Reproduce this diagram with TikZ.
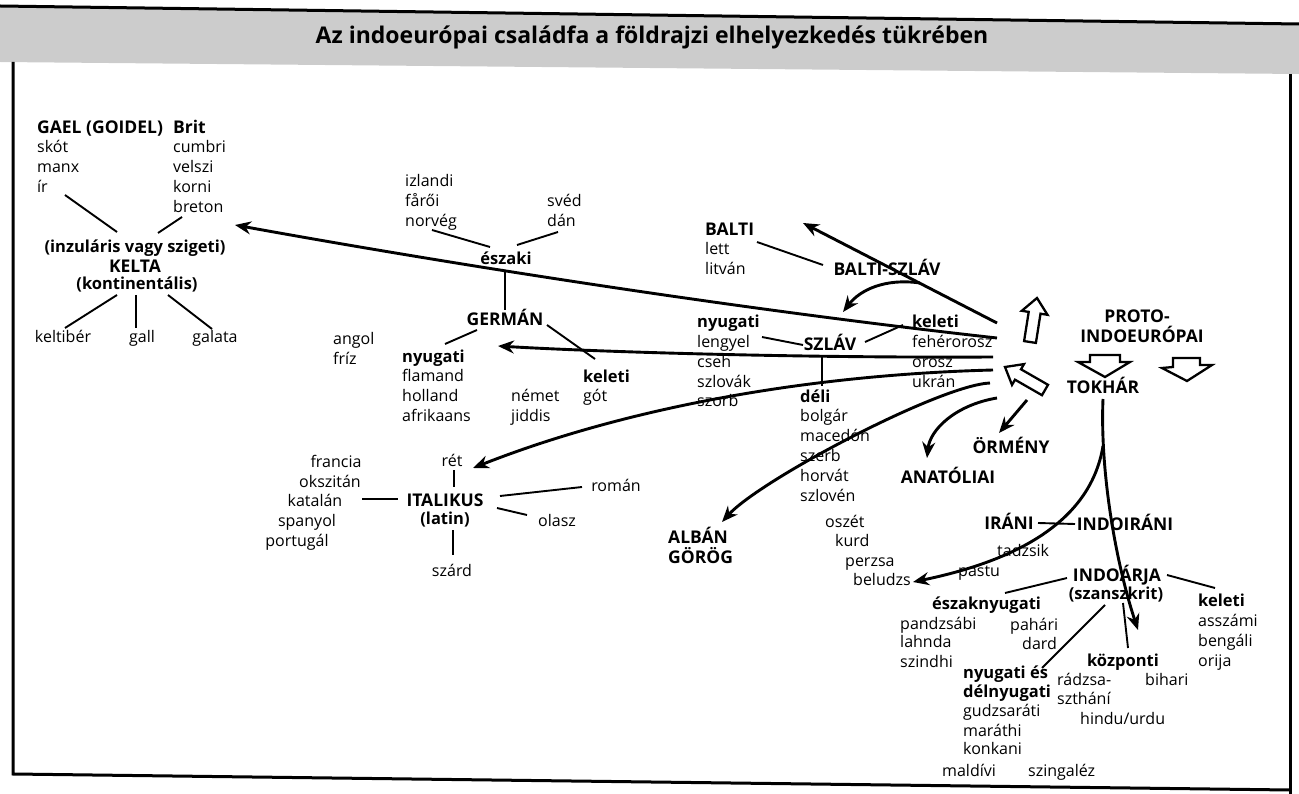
\documentclass[tikz,border=0pt]{standalone}
\usepackage{fontspec}
\setmainfont{Open Sans}
\usepackage{graphicx}
\usetikzlibrary{calc,arrows.meta}
\begin{document}
\begin{tikzpicture}[x=1pt,y=-1pt,
  txt/.style={font=\fontsize{16}{19}\selectfont, inner sep=0pt, text height=11pt, text depth=2pt},
  subh/.style={font=\fontsize{16.5}{19}\selectfont\bfseries, inner sep=0pt, text height=11pt, text depth=2pt},
  hd/.style={font=\fontsize{17.5}{20}\selectfont\bfseries, inner sep=0pt, text height=13pt, text depth=1pt},
  ww/.style={anchor=west},
  conn/.style={line width=1.9pt},
  arr/.style={line width=2.9pt, -{Stealth[length=16pt,width=13pt]}},
  hollowarrow/.style={line width=2.3pt, fill=white, line join=miter},
  framel/.style={line width=3pt}]
\useasboundingbox (0,0) rectangle (1299,794);
% title band and frame
\fill[gray!40] (0,6) -- (1299,24) -- (1299,74) -- (0,62) -- cycle;
\draw[framel] (0,6) -- (1299,24);
\node[font=\fontsize{23}{26}\selectfont\bfseries, inner sep=0pt] (title) at (652,37) {Az indoeurópai családfa a földrajzi elhelyezkedés tükrében};
\draw[framel] (13,62) -- (13,774) -- (1290,790);
\draw[framel] (1290,74) -- (1290,794);

% ---------------- Celtic
\node[hd,ww] (gael) at (37,128) {GAEL (GOIDEL)};
\node[txt,ww] (skot) at (37,148) {skót};
\node[txt,ww] (manx) at (37,168) {manx};
\node[txt,ww] (ir) at (37,188) {ír};
\node[hd,ww] (brit) at (173,128) {Brit};
\node[txt,ww] (cumbri) at (173,148) {cumbri};
\node[txt,ww] (velszi) at (173,168) {velszi};
\node[txt,ww] (korni) at (173,188) {korni};
\node[txt,ww] (breton) at (173,208) {breton};
\node[subh] (inz) at (135,248) {(inzuláris vagy szigeti)};
\node[hd] (kelta) at (135,267) {KELTA};
\node[subh] (kont) at (137,285) {(kontinentális)};
\node[txt] (keltiber) at (63,338) {keltibér};
\node[txt] (gall) at (142,338) {gall};
\node[txt] (galata) at (215,338) {galata};
\draw[conn] ($(ir.west)+(28,7)$) -- ($(inz)+(-18,-16)$);
\draw[conn] ($(breton.west)+(9,9)$) -- ($(inz)+(23,-15)$);
\draw[conn] ($(kont)+(-20,10)$) -- ($(keltiber)+(2,-10)$);
\draw[conn] ($(kont)+(-1,10)$) -- ($(gall)+(-6,-10)$);
\draw[conn] ($(kont)+(31,10)$) -- ($(galata)+(-3,-9)$);

% ---------------- Germanic
\node[txt,ww] (izlandi) at (405,182) {izlandi};
\node[txt,ww] (faroi) at (405,202) {fårői};
\node[txt,ww] (norveg) at (405,222) {norvég};
\node[txt,ww] (sved) at (547,202) {svéd};
\node[txt,ww] (dan) at (547,222) {dán};
\node[subh] (eszaki) at (506,260) {északi};
\node[hd] (german) at (505,320) {GERMÁN};
\node[txt,ww] (angol) at (333,340) {angol};
\node[txt,ww] (friz) at (333,360) {fríz};
\node[subh,ww] (gnyugati) at (402,358) {nyugati};
\node[txt,ww] (flamand) at (402,377) {flamand};
\node[txt,ww] (holland) at (402,397) {holland};
\node[txt,ww] (afrikaans) at (402,417) {afrikaans};
\node[txt,ww] (nemet) at (511,397) {német};
\node[txt,ww] (jiddis) at (511,417) {jiddis};
\node[subh,ww] (gkeleti) at (583,378) {keleti};
\node[txt,ww] (got) at (583,397) {gót};
\draw[conn] ($(norveg.west)+(27,8)$) -- ($(eszaki)+(-16,-13)$);
\draw[conn] ($(dan.west)+(11,10)$) -- ($(eszaki)+(11,-15)$);
\draw[conn] ($(eszaki)+(-1,12)$) -- ($(german)+(0,-10)$);
\draw[conn] ($(german)+(-28,10)$) -- ($(gnyugati.west)+(43,-14)$);
\draw[conn] ($(german)+(42,5)$) -- ($(gkeleti.west)+(12,-19)$);

% ---------------- Balto-Slavic
\node[hd,ww] (balti) at (705,230) {BALTI};
\node[txt,ww] (lett) at (705,250) {lett};
\node[txt,ww] (litvan) at (705,270) {litván};
\node[hd] (baltiszlav) at (887,270) {BALTI-SZLÁV};
\node[subh,ww] (snyugati) at (697,323) {nyugati};
\node[txt,ww] (lengyel) at (697,343) {lengyel};
\node[txt,ww] (cseh) at (697,363) {cseh};
\node[txt,ww] (szlovak) at (697,383) {szlovák};
\node[txt,ww] (szorb) at (697,402) {szorb};
\node[hd] (szlav) at (830,345) {SZLÁV};
\node[subh,ww] (skeleti) at (912,323) {keleti};
\node[txt,ww] (feherorosz) at (912,343) {fehérorosz};
\node[txt,ww] (orosz) at (912,363) {orosz};
\node[txt,ww] (ukran) at (912,383) {ukrán};
\node[subh,ww] (deli) at (800,398) {déli};
\node[txt,ww] (bolgar) at (800,417) {bolgár};
\node[txt,ww] (macedon) at (800,437) {macedón};
\node[txt,ww] (szerb) at (800,457) {szerb};
\node[txt,ww] (horvat) at (800,477) {horvát};
\node[txt,ww] (szloven) at (800,497) {szlovén};
\draw[conn] ($(balti.west)+(52,12)$) -- ($(baltiszlav)+(-64,-5)$);
\draw[conn] ($(lengyel.west)+(65,-6)$) -- ($(szlav)+(-27,0)$);
\draw[conn] ($(szlav)+(35,-3)$) -- ($(skeleti.west)+(-9,2)$);
\draw[conn] ($(szlav)+(-8,12)$) -- ($(deli.west)+(22,-12)$);

% ---------------- Italic
\node[txt] (ret) at (452,462) {rét};
\node[hd] (italikus) at (445,500) {ITALIKUS};
\node[subh] (latin) at (445,520) {(latin)};
\node[txt] (francia) at (336,463) {francia};
\node[txt] (okszitan) at (330,483) {okszitán};
\node[txt] (katalan) at (315,502) {katalán};
\node[txt] (spanyol) at (307,522) {spanyol};
\node[txt] (portugal) at (297,542) {portugál};
\node[txt] (roman) at (616,487) {román};
\node[txt] (olasz) at (557,522) {olasz};
\node[txt] (szard) at (452,572) {szárd};
\draw[conn] ($(ret)+(2,8)$) -- ($(italikus)+(9,-13)$);
\draw[conn] ($(katalan)+(47,-3)$) -- ($(italikus)+(-47,-1)$);
\draw[conn] ($(italikus)+(55,-4)$) -- ($(roman)+(-34,0)$);
\draw[conn] ($(italikus)+(52,8)$) -- ($(olasz)+(-30,-7)$);
\draw[conn] ($(latin)+(8,10)$) -- ($(szard)+(1,-17)$);

% ---------------- others
\node[hd] (anatoliai) at (948,477) {ANATÓLIAI};
\node[hd] (ormeny) at (1011,447) {ÖRMÉNY};
\node[hd,ww] (alban) at (668,537) {ALBÁN};
\node[hd,ww] (gorog) at (668,557) {GÖRÖG};
\node[txt,ww] (oszet) at (825,523) {oszét};
\node[txt,ww] (kurd) at (835,542) {kurd};
\node[txt,ww] (perzsa) at (845,562) {perzsa};
\node[txt,ww] (beludzs) at (853,581) {beludzs};
\node[hd] (irani) at (1009,523) {IRÁNI};
\node[hd] (indoirani) at (1125,524) {INDOIRÁNI};
\node[txt,ww] (tadzsik) at (997,552) {tadzsik};
\node[txt,ww] (pastu) at (958,572) {pastu};
\node[hd] (proto) at (1137,317) {PROTO-};
\node[hd] (indoeur) at (1142,337) {INDOEURÓPAI};
\node[hd] (tokhar) at (1103,387) {TOKHÁR};
\node[hd] (indoarja) at (1117,575) {INDOÁRJA};
\node[subh] (szanszkrit) at (1116,595) {(szanszkrit)};
\node[subh,ww] (ikeleti) at (1198,602) {keleti};
\node[txt,ww] (asszami) at (1198,622) {asszámi};
\node[txt,ww] (bengali) at (1198,642) {bengáli};
\node[txt,ww] (orija) at (1198,662) {orija};
\node[subh,ww] (esznyug) at (932,605) {északnyugati};
\node[txt,ww] (pandzsabi) at (900,625) {pandzsábi};
\node[txt,ww] (lahnda) at (900,643) {lahnda};
\node[txt,ww] (szindhi) at (900,663) {szindhi};
\node[txt,ww] (pahari) at (1010,626) {pahári};
\node[txt,ww] (dard) at (1022,645) {dard};
\node[subh,ww] (nyes) at (963,674) {nyugati és};
\node[subh,ww] (delnyug) at (963,693) {délnyugati};
\node[txt,ww] (gudzsarati) at (963,712) {gudzsaráti};
\node[txt,ww] (marathi) at (963,732) {maráthi};
\node[txt,ww] (konkani) at (963,750) {konkani};
\node[subh] (kozponti) at (1123,662) {központi};
\node[txt,ww] (radzsa) at (1057,681) {rádzsa-};
\node[txt,ww] (szthani) at (1057,700) {szthání};
\node[txt,ww] (bihari) at (1145,681) {bihari};
\node[txt,ww] (hindu) at (1080,720) {hindu/urdu};
\node[txt,ww] (maldivi) at (942,772) {maldívi};
\node[txt,ww] (szingalez) at (1028,772) {szingaléz};
\draw[conn] ($(irani)+(29,0)$) -- ($(indoirani)+(-50,0)$);
\draw[conn] ($(indoarja)+(50,0)$) -- ($(ikeleti.west)+(17,-14)$);
\draw[conn] ($(indoarja)+(-50,3)$) -- ($(esznyug.west)+(73,-12)$);
\draw[conn] ($(szanszkrit)+(-11,10)$) -- ($(nyes.west)+(79,-6)$);
\draw[conn] ($(szanszkrit)+(7,8)$) -- ($(kozponti)+(5,-14)$);

% ---------------- arrows from the homeland
\coordinate (oCelt) at (997,338);
\coordinate (oGerm) at (993,357);
\coordinate (oItal) at (993,370);
\coordinate (oAlb) at (990,383);
\coordinate (oAnat) at (997,398);
\coordinate (oOrm) at (1027,400);
\coordinate (oBalt) at (997,323);
\coordinate (bBsz) at (920,283);
\coordinate (bIran) at (1103,446);
\draw[arr] (oCelt) .. controls (700,305) and (400,255) .. ($(inz)+(100,-23)$);
\draw[arr] (oGerm) .. controls (800,358) and (600,352) .. ($(german)+(-7,26)$);
\draw[arr] (oItal) .. controls (800,375) and (620,410) .. ($(ret)+(21,6)$);
\draw[arr] (oAlb) .. controls (940,385) and (760,480) .. ($(alban.west)+(54,-15)$);
\draw[arr] (oAnat) .. controls (955,405) and (930,430) .. ($(anatoliai)+(-21,-19)$);
\draw[arr] (oOrm) -- ($(ormeny)+(-12,-14)$);
\draw[arr] (oBalt) -- ($(balti.west)+(98,-7)$);
\draw[arr] (bBsz) .. controls (885,278) and (860,290) .. ($(szlav)+(13,-33)$);
\draw[arr] ($(tokhar)+(0,12)$) .. controls (1100,470) and (1115,560) .. ($(kozponti)+(15,-32)$);
\draw[arr] (bIran) .. controls (1090,525) and (1010,562) .. ($(beludzs.west)+(60,1)$);

% ---------------- hollow arrows
\draw[hollowarrow] (1037,298) -- (1047.5,314.8) -- (1040.5,313.7) -- (1035.9,342.9) -- (1024.1,341.1) -- (1028.7,311.9) -- (1021.8,310.8) -- cycle;
\draw[hollowarrow] (1005,367) -- (1024,364.1) -- (1021,369.3) -- (1048,384.8) -- (1042,395.2) -- (1015,379.7) -- (1012,384.9) -- cycle;
\draw[hollowarrow] (1090,355) -- (1120,355) -- (1120,362) -- (1130,362) -- (1105,377) -- (1078,362) -- (1090,362) -- cycle;
\draw[hollowarrow] (1173,358) -- (1200,358) -- (1200,365) -- (1212,365) -- (1187,381) -- (1162,368) -- (1173,367) -- cycle;
\end{tikzpicture}
\end{document}
